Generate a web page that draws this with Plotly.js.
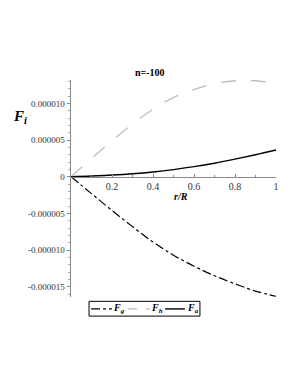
<!DOCTYPE html>
<html>
<head>
<meta charset="utf-8">
<script src="https://cdn.plot.ly/plotly-3.0.1.min.js"></script>
<style>html,body{margin:0;padding:0;background:#fff;}#chart{width:300px;height:388px;}</style>
</head>
<body>
<div id="chart"></div>
<script>
// r/R values
const r = [0, 0.1, 0.2, 0.3, 0.4, 0.5, 0.6, 0.7, 0.8, 0.9, 1.0];
// F_g (dash-dot)
const Fg = [0, -2.3e-6, -4.6e-6, -6.8e-6, -8.9e-6, -10.7e-6, -12.2e-6, -13.5e-6, -14.6e-6, -15.6e-6, -16.3e-6];
// F_h (gray dashed)
const Fh = [0, 2.5e-6, 4.9e-6, 7.2e-6, 9.2e-6, 10.8e-6, 11.9e-6, 12.7e-6, 13.1e-6, 13.1e-6, 12.7e-6];
// F_a (black solid)
const Fa = [0, 0.1e-6, 0.24e-6, 0.42e-6, 0.66e-6, 0.98e-6, 1.38e-6, 1.85e-6, 2.4e-6, 3.0e-6, 3.65e-6];

const seriesNames = ["<b><i>F</i></b><sub><b><i>g</i></b></sub>",
                     "<b><i>F</i></b><sub><b><i>h</i></b></sub>",
                     "<b><i>F</i></b><sub><b><i>a</i></b></sub>"];
const xTickVals = [0.2, 0.4, 0.6, 0.8, 1];
const xTickText = ["0.2", "0.4", "0.6", "0.8", "1"];
const yTickVals = [-15e-6, -10e-6, -5e-6, 0, 5e-6, 10e-6];
const yTickText = ["-0.000015", "-0.000010", "-0.000005", "0", "0.000005", "0.000010"];

const yMin = -16.4e-6, yMax = 13.2e-6;
const serif = "Liberation Serif, Times New Roman, serif";

const lineStyles = [
  {color: "#000", width: 1.2, dash: "dashdot"},
  {color: "#bdbdbd", width: 1.3, dash: "longdash"},
  {color: "#000", width: 1.4, dash: "solid"}
];
const ys = [Fg, Fh, Fa];

const traces = ys.map((y, i) => ({
  x: r, y: y, name: seriesNames[i], mode: "lines",
  line: Object.assign({shape: "spline", smoothing: 1}, lineStyles[i])
}));

// legend box (drawn as layout decoration, paper coords)
const legY = -0.055;
const legItems = [[0.098, 0.2, 0.236], [0.278, 0.385, 0.42], [0.459, 0.556, 0.593]];
const shapes = [
  {type: "rect", xref: "paper", yref: "paper", x0: 0.088, x1: 0.629, y0: -0.088, y1: -0.02,
   line: {color: "#000", width: 1}, fillcolor: "#fff"}
];
const legendAnn = [];
legItems.forEach((it, i) => {
  shapes.push({type: "line", xref: "paper", yref: "paper", x0: it[0], x1: it[1], y0: legY, y1: legY,
    line: {color: lineStyles[i].color, width: lineStyles[i].width,
           dash: i === 0 ? "dashdot" : (i === 1 ? "dash" : "solid")}});
  legendAnn.push({text: seriesNames[i], xref: "paper", yref: "paper", x: it[2], y: legY,
    xanchor: "center", yanchor: "middle", showarrow: false,
    font: {family: serif, size: 10, color: "#000"}});
});

const layout = {
  width: 300, height: 388,
  margin: {l: 71, r: 24, t: 80, b: 91},
  paper_bgcolor: "#fff", plot_bgcolor: "#fff",
  font: {family: serif, size: 9, color: "#333"},
  showlegend: false,
  xaxis: {
    range: [0, 1], anchor: "free",
    position: (0 - yMin) / (yMax - yMin),
    tickvals: xTickVals, ticktext: xTickText,
    showgrid: false, zeroline: false,
    showline: true, linecolor: "#888", linewidth: 1.5,
    ticks: "inside", ticklen: 3, tickcolor: "#888",
    minor: {ticks: "inside", ticklen: 2, dtick: 0.1, tickcolor: "#888"},
    tickfont: {family: serif, size: 10, color: "#333"}
  },
  yaxis: {
    range: [yMin, yMax],
    tickvals: yTickVals, ticktext: yTickText,
    showgrid: false, zeroline: false,
    showline: true, linecolor: "#888", linewidth: 1.5,
    ticks: "outside", ticklen: 3, tickcolor: "#888",
    minor: {ticks: "outside", ticklen: 2, dtick: 1e-6, tickcolor: "#aaa"},
    tickfont: {family: serif, size: 9, color: "#333"}
  },
  shapes: shapes,
  annotations: [
    {text: "<b>n=-100</b>", xref: "paper", yref: "paper", x: 0.385, y: 1.0,
     xanchor: "center", yanchor: "bottom", showarrow: false,
     font: {family: serif, size: 10, color: "#000"}},
    {text: "<b><i>F</i></b><sub><b><i>i</i></b></sub>", xref: "paper", yref: "paper",
     x: -0.25, y: 0.83, xanchor: "center", yanchor: "middle", showarrow: false,
     font: {family: serif, size: 15, color: "#000"}},
    {text: "<b><i>r/R</i></b>", xref: "paper", yref: "paper",
     x: 0.537, y: 0.462, xanchor: "center", yanchor: "middle", showarrow: false,
     font: {family: serif, size: 10, color: "#000"}}
  ].concat(legendAnn)
};

Plotly.newPlot("chart", traces, layout, {displayModeBar: false, staticPlot: true});
</script>
</body>
</html>
